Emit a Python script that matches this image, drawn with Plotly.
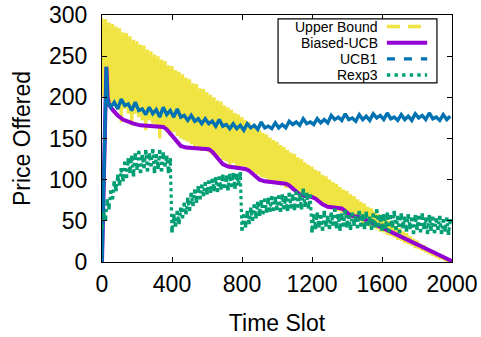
import numpy as np
import plotly.graph_objects as go

# ---------------- data ----------------
# Upper Bound: oscillating price; peaks at t=0,20,...,1980 and troughs at t=10,30,...,1990
ub_peaks = [296, 295, 291, 289, 286, 284, 279, 278, 274, 270,
            268, 264, 263, 258, 256, 252, 250, 246, 244, 239,
            238, 233, 231, 228, 224, 222, 217, 216, 211, 210,
            206, 203, 200, 196, 195, 190, 188, 185, 181, 179,
            176, 172, 170, 166, 164, 160, 157, 155, 151, 148,
            146, 142, 140, 136, 133, 131, 127, 125, 121, 118,
            116, 112, 110, 106, 104, 100, 97, 95, 91, 88,
            86, 82, 80, 76, 73, 71, 67, 65, 61, 58,
            56, 52, 50, 46, 43, 41, 37, 35, 31, 28,
            26, 22, 20, 16, 13, 11, 8, 6, 3, 2]
ub_troughs = [200, 196, 190, 192, 185, 170, 186, 180, 166, 180,
              176, 172, 160, 172, 168, 165, 150, 162, 158, 156,
              158, 153, 150, 148, 146, 143, 140, 138, 135, 137,
              133, 130, 127, 128, 124, 122, 118, 120, 116, 114,
              116, 112, 110, 108, 106, 103, 102, 99, 97, 98,
              95, 93, 90, 90, 87, 85, 83, 81, 79, 78,
              76, 73, 72, 70, 67, 66, 63, 62, 60, 57,
              56, 53, 52, 50, 47, 46, 43, 42, 40, 37,
              36, 33, 32, 30, 27, 26, 23, 22, 20, 17,
              16, 14, 12, 10, 8, 7, 5, 4, 2, 1]

# Biased-UCB
bucb_t = [0, 25, 32, 40, 60, 90, 120, 150, 180, 220, 280, 330, 350, 370, 390,
          410, 430, 450, 480, 540, 590, 610, 630, 650, 670, 690, 720, 760, 800,
          820, 840, 860, 880, 900, 930, 970, 1020, 1050, 1070, 1090, 1110, 1130,
          1160, 1200, 1220, 1240, 1260, 1290, 1340, 1370, 1390, 1410, 1430, 1460,
          1500, 1600, 1700, 1800, 1900, 2000]
bucb_v = [0, 237, 200, 191, 185, 178, 173, 170, 168, 166, 165, 165, 164, 161, 156,
          150, 145, 141, 139, 138, 138, 137, 134, 129, 124, 119, 116, 115, 114,
          113, 111, 107, 103, 100, 98, 97, 96, 95, 93, 89, 85, 82,
          80, 79, 77, 73, 70, 67, 66, 65, 62, 58, 56, 55,
          52, 42, 31, 21, 11, 1]

# UCB1: start spike, then samples every 20 slots from t=30
ucb_start_t = [0, 25]
ucb_start_v = [0, 237]
ucb_v = [196, 188, 194, 186, 198, 190, 192, 184, 194, 184,
         186, 179, 188, 180, 185, 176, 188, 179, 184, 176,
         186, 176, 178, 172, 178, 171, 174, 168, 174, 168,
         171, 165, 173, 165, 167, 162, 168, 162, 166, 160,
         168, 163, 166, 161, 170, 163, 165, 162, 169, 163,
         167, 163, 171, 167, 170, 166, 174, 168, 170, 167,
         174, 169, 173, 169, 178, 173, 176, 172, 180, 173,
         175, 171, 179, 173, 177, 172, 180, 175, 178, 173,
         181, 174, 176, 172, 179, 173, 177, 172, 180, 175,
         178, 173, 181, 174, 176, 172, 179, 173, 177]

# Rexp3: samples every 10 slots from t=0
rexp3_v = [42, 58, 52, 74, 66, 85, 78, 96, 88, 104,
           95, 112, 100, 120, 104, 124, 110, 127, 106, 130,
           114, 133, 110, 128, 116, 134, 112, 130, 118, 135,
           110, 129, 115, 134, 112, 131, 118, 127, 110, 124,
           38, 56, 45, 60, 48, 64, 55, 70, 60, 76,
           64, 82, 70, 86, 74, 90, 78, 92, 82, 95,
           84, 97, 86, 99, 88, 101, 87, 102, 90, 104,
           92, 103, 89, 105, 93, 106, 91, 105, 95, 107,
           40, 56, 44, 60, 48, 64, 52, 68, 55, 71,
           58, 73, 60, 75, 62, 76, 63, 78, 64, 77,
           65, 79, 63, 80, 66, 78, 64, 82, 67, 80,
           65, 84, 68, 81, 66, 87, 69, 82, 67, 80,
           38, 56, 42, 58, 44, 55, 40, 60, 45, 54,
           42, 58, 46, 63, 43, 56, 40, 57, 45, 61,
           44, 55, 41, 58, 46, 54, 43, 60, 45, 56,
           42, 59, 46, 53, 41, 57, 44, 62, 45, 55,
           40, 56, 42, 58, 38, 55, 44, 60, 41, 54,
           37, 57, 43, 53, 39, 56, 42, 52, 36, 55,
           41, 54, 38, 57, 42, 52, 36, 55, 40, 53,
           37, 51, 41, 54, 36, 50, 39, 52, 35, 50]

x_ticks = [0, 400, 800, 1200, 1600, 2000]
y_ticks = [0, 50, 100, 150, 200, 250, 300]
legend_names = ["Upper Bound", "Biased-UCB", "UCB1", "Rexp3"]

# ---------------- build series ----------------
ub_v = []
for p, q in zip(ub_peaks, ub_troughs):
    ub_v += [p, q]
ub_t = list(np.arange(0, 10 * len(ub_v), 10)) + [2000]
ub_v = ub_v + [0]

ucb_t = ucb_start_t + list(np.arange(30, 30 + 20 * len(ucb_v), 20))
ucb_all = ucb_start_v + ucb_v

rexp3_t = list(np.arange(0, 10 * len(rexp3_v), 10))

YELLOW = "#f0e442"
PURPLE = "#9400d3"
BLUE = "#0072b2"
GREEN = "#009e73"

fig = go.Figure()
fig.add_trace(go.Scatter(x=ub_t, y=ub_v, mode="lines", name=legend_names[0],
                         line=dict(color=YELLOW, width=3.2)))
fig.add_trace(go.Scatter(x=bucb_t, y=bucb_v, mode="lines", name=legend_names[1],
                         line=dict(color=PURPLE, width=4)))
fig.add_trace(go.Scatter(x=ucb_t, y=ucb_all, mode="lines", name=legend_names[2],
                         line=dict(color=BLUE, width=3.4)))
fig.add_trace(go.Scatter(x=rexp3_t, y=rexp3_v, mode="lines+markers", name=legend_names[3],
                         line=dict(color=GREEN, width=3.2, dash="dot"),
                         marker=dict(symbol="square", size=3.6, color=GREEN)))

FONT = "Liberation Sans, Arial, sans-serif"
axis_common = dict(showline=True, mirror="ticks", linecolor="black", linewidth=1.2,
                   ticks="inside", ticklen=5, tickwidth=1, tickcolor="black",
                   showgrid=False, zeroline=False, automargin=False,
                   ticklabeloverflow="allow",
                   tickfont=dict(family=FONT, size=23, color="black"))

fig.update_xaxes(range=[0, 2000], tickvals=x_ticks, ticktext=[str(v) for v in x_ticks],
                 ticklabelstandoff=1,
                 title=dict(text="Time Slot", font=dict(family=FONT, size=23, color="black"),
                            standoff=19),
                 **axis_common)
fig.update_yaxes(range=[0, 300], tickvals=y_ticks, ticktext=[str(v) for v in y_ticks],
                 ticklabelstandoff=9,
                 title=dict(text="Price Offered", font=dict(family=FONT, size=23, color="black"),
                            standoff=11),
                 **axis_common)

# ---------------- gnuplot-style key (text left of sample) ----------------
key_rows = [0.953, 0.888, 0.822, 0.757]
key_styles = [dict(color=YELLOW, width=3.5, dash="13px,8px"),
              dict(color=PURPLE, width=4),
              dict(color=BLUE, width=3.2, dash="8px,9px"),
              dict(color=GREEN, width=3.4, dash="3.4px,4.2px")]
shapes = [dict(type="rect", xref="paper", yref="paper", x0=0.503, x1=0.957,
               y0=0.725, y1=0.984, line=dict(color="black", width=1.2),
               fillcolor="white", layer="above")]
annotations = []
for name, yk, st in zip(legend_names, key_rows, key_styles):
    shapes.append(dict(type="line", xref="paper", yref="paper", x0=0.814, x1=0.929,
                       y0=yk, y1=yk, line=st, layer="above"))
    annotations.append(dict(text=name, xref="paper", yref="paper", x=0.792, y=yk,
                            xanchor="right", yanchor="middle", showarrow=False,
                            borderpad=0,
                            font=dict(family=FONT, size=14, color="black")))

fig.update_layout(width=481, height=337, template="none",
                  margin=dict(l=102, r=29, t=15, b=75, autoexpand=False),
                  plot_bgcolor="white", paper_bgcolor="white", showlegend=False,
                  shapes=shapes, annotations=annotations,
                  font=dict(family=FONT, color="black"))

# remove the browser's default 8px page margin so the figure fills the window
fig.write_html("out.html", config={"displayModeBar": False},
               post_script="document.body.style.margin='0';document.body.style.overflow='hidden';")
